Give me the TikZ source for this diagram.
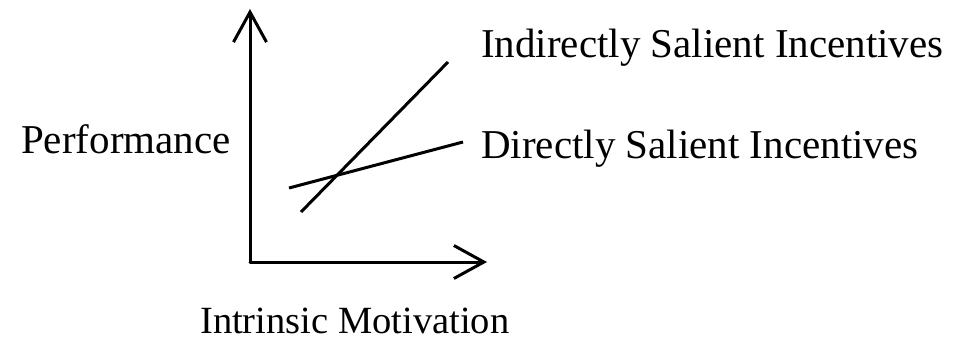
\documentclass[tikz,border=0pt]{standalone}
\usepackage{fontspec}
\setmainfont{Liberation Serif}
\usetikzlibrary{arrows.meta}
\begin{document}
\begin{tikzpicture}[x=1pt,y=-1pt,
  lbl/.style={anchor=base west,inner sep=0pt,font=\fontsize{41}{45}\selectfont},
  axis/.style={line width=3pt,line cap=round,line join=round,-{Straight Barb[length=30pt,width=33pt,line width=3pt]}},
  trend/.style={line width=3pt}]
\useasboundingbox (0,0) rectangle (961,341);
\coordinate (O) at (250,262);
\coordinate (ytip) at (250,9);
\coordinate (xtip) at (487,262);
\draw[axis] (O) -- (ytip);
\draw[axis] (O) -- (xtip);
\coordinate (i1) at (301,212);
\coordinate (i2) at (448,62);
\coordinate (d1) at (289,188);
\coordinate (d2) at (463,142);
\draw[trend] (i1) -- (i2);
\draw[trend] (d1) -- (d2);
\node[lbl] (ind) at (481,57) {Indirectly Salient Incentives};
\node[lbl] (dir) at (481,158) {Directly Salient Incentives};
\node[lbl] (perf) at (21,153) {Performance};
\node[lbl,font=\fontsize{38.5}{42}\selectfont] (intr) at (200,333) {Intrinsic Motivation};
\end{tikzpicture}
\end{document}
